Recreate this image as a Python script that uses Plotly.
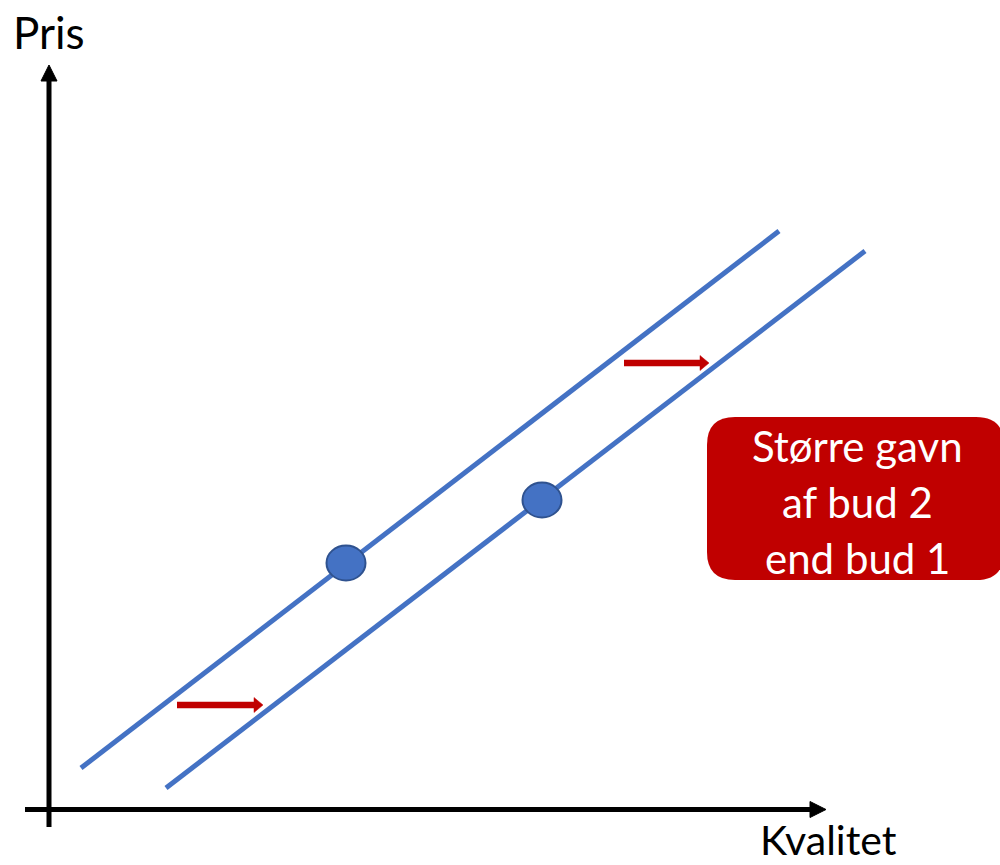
import plotly.graph_objects as go

# Diagram coordinates (canvas units, y measured downward)
line1_x = [81, 779]
line1_y = [768, 231]
line2_x = [166, 865]
line2_y = [788, 251]
dot_x = [346, 542]
dot_y = [563, 500]
arrow_starts_x = [177, 624]
arrow_ends_x = [263, 709]
arrow_y = [705, 363]
box_lines = ["Større gavn", "af bud 2", "end bud 1"]
box_line_y = [446, 502, 558]
axis_labels = ["Pris", "Kvalitet"]

BLUE = "#4472C4"
RED = "#C00000"
FONT = "Lato, Liberation Sans, sans-serif"

fig = go.Figure()

fig.add_trace(go.Scatter(x=line1_x, y=line1_y, mode="lines",
                         line=dict(color=BLUE, width=5), hoverinfo="skip"))
fig.add_trace(go.Scatter(x=line2_x, y=line2_y, mode="lines",
                         line=dict(color=BLUE, width=5), hoverinfo="skip"))

shapes = []
# axes
shapes.append(dict(type="line", x0=49, x1=49, y0=827, y1=78, line=dict(color="black", width=5)))
shapes.append(dict(type="path", path="M 41 81 L 49 65 L 57 81 Z", fillcolor="black", line=dict(color="black", width=1)))
shapes.append(dict(type="line", x0=25, x1=812, y0=809.5, y1=809.5, line=dict(color="black", width=5)))
shapes.append(dict(type="path", path="M 810 801.5 L 826 809.5 L 810 817.5 Z", fillcolor="black", line=dict(color="black", width=1)))

# dots
for cx, cy in zip(dot_x, dot_y):
    shapes.append(dict(type="circle", x0=cx - 19.5, x1=cx + 19.5, y0=cy - 17.5, y1=cy + 17.5,
                       fillcolor=BLUE, line=dict(color="#2F528F", width=2)))

# red arrows
for xs, xe, ay in zip(arrow_starts_x, arrow_ends_x, arrow_y):
    shapes.append(dict(type="line", x0=xs, x1=xe - 8, y0=ay, y1=ay, line=dict(color=RED, width=6.5)))
    shapes.append(dict(type="path", path=f"M {xe-9} {ay-7.5} L {xe} {ay} L {xe-9} {ay+7.5} Z",
                       fillcolor=RED, line=dict(color=RED, width=0.5)))

# rounded box
bx0, bx1, by0, by1, r = 707, 1004, 417, 580, 28
path = (f"M {bx0+r} {by0} L {bx1-r} {by0} Q {bx1} {by0} {bx1} {by0+r} "
        f"L {bx1} {by1-r} Q {bx1} {by1} {bx1-r} {by1} L {bx0+r} {by1} "
        f"Q {bx0} {by1} {bx0} {by1-r} L {bx0} {by0+r} Q {bx0} {by0} {bx0+r} {by0} Z")
shapes.append(dict(type="path", path=path, fillcolor=RED, line=dict(color=RED, width=0)))

annotations = []
annotations.append(dict(x=49, y=32, text=axis_labels[0], showarrow=False,
                        font=dict(family=FONT, size=44, color="black"), xanchor="center", yanchor="middle"))
annotations.append(dict(x=828, y=839, text=axis_labels[1], showarrow=False,
                        font=dict(family=FONT, size=41, color="black"), xanchor="center", yanchor="middle"))
for t, ly in zip(box_lines, box_line_y):
    annotations.append(dict(x=857, y=ly, text=t, showarrow=False,
                            font=dict(family=FONT, size=42, color="white"), xanchor="center", yanchor="middle"))

fig.update_layout(
    width=1000, height=865,
    margin=dict(l=0, r=0, t=0, b=0),
    paper_bgcolor="white", plot_bgcolor="white",
    showlegend=False,
    xaxis=dict(range=[0, 1000], visible=False, fixedrange=True),
    yaxis=dict(range=[865, 0], visible=False, fixedrange=True),
    shapes=shapes,
    annotations=annotations,
)

fig.write_html("out.html", config={"displayModeBar": False},
               post_script="document.body.style.margin='0';document.body.style.overflow='hidden';")
